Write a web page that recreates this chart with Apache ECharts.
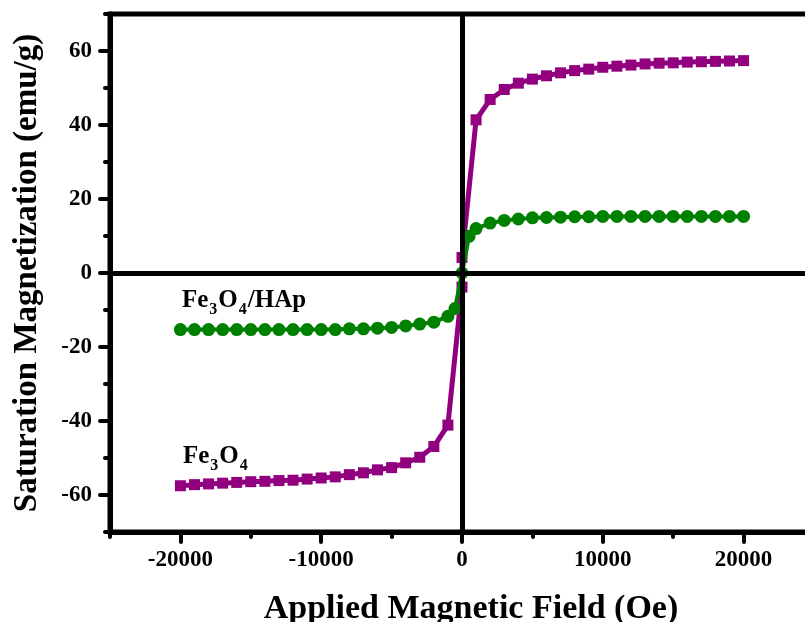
<!DOCTYPE html>
<html>
<head>
<meta charset="utf-8">
<script src="https://cdn.jsdelivr.net/npm/echarts@6/dist/echarts.min.js"></script>
<style>html,body{margin:0;padding:0;background:#fff}#c{width:805px;height:622px}</style>
</head>
<body>
<div id="c"></div>
<script>
// Fe3O4 (purple squares)
var fieldFe3O4 = [-20000,-19000,-18000,-17000,-16000,-15000,-14000,-13000,-12000,-11000,-10000,-9000,-8000,-7000,-6000,-5000,-4000,-3000,-2000,-1000,0,0,1000,2000,3000,4000,5000,6000,7000,8000,9000,10000,11000,12000,13000,14000,15000,16000,17000,18000,19000,20000];
var magFe3O4 = [-57.5,-57.2,-57.0,-56.8,-56.6,-56.4,-56.3,-56.1,-56.0,-55.7,-55.4,-55.1,-54.5,-54.0,-53.2,-52.6,-51.3,-49.8,-46.9,-41.1,-3.8,4.2,41.4,46.9,49.6,51.3,52.4,53.3,54.1,54.7,55.1,55.6,55.9,56.2,56.5,56.7,56.8,57.0,57.1,57.2,57.3,57.4];
// Fe3O4/HAp (green circles)
var fieldHAp = [-20000,-19000,-18000,-17000,-16000,-15000,-14000,-13000,-12000,-11000,-10000,-9000,-8000,-7000,-6000,-5000,-4000,-3000,-2000,-1000,-500,0,500,1000,2000,3000,4000,5000,6000,7000,8000,9000,10000,11000,12000,13000,14000,15000,16000,17000,18000,19000,20000];
var magHAp = [-15.3,-15.3,-15.3,-15.3,-15.3,-15.3,-15.3,-15.3,-15.3,-15.3,-15.3,-15.3,-15.1,-15.1,-14.9,-14.7,-14.3,-13.8,-13.3,-11.7,-9.6,0,9.9,12.0,13.5,14.2,14.6,14.9,15.0,15.1,15.2,15.2,15.3,15.3,15.3,15.3,15.3,15.3,15.3,15.3,15.3,15.3,15.3];
// ticks
var xMajorTicks = [-20000,-10000,0,10000,20000];
var xMinorTicks = [-25000,-15000,-5000,5000,15000,25000];
var yMajorTicks = [-60,-40,-20,0,20,40,60];
var yMinorTicks = [-70,-50,-30,-10,10,30,50,70];

function pairs(xs, ys){ return xs.map(function(x,i){ return [x, ys[i]]; }); }
function plain(v){ return String(v); }

var FONT = '"Liberation Serif","Times New Roman",serif';
var chart = echarts.init(document.getElementById('c'), null, {renderer:'canvas'});
var axisCommon = {
  type:'value', splitLine:{show:false}
};
chart.setOption({
  animation:false,
  backgroundColor:'#fff',
  grid:{left:110, top:14, right:-9, bottom:90, containLabel:false, outerBoundsMode:'none',
        show:true, borderWidth:5, borderColor:'#000', backgroundColor:'transparent'},
  xAxis:[
    Object.assign({}, axisCommon, {
      min:-25000, max:25000, interval:5000, position:'bottom',
      axisLine:{show:true, onZero:false, lineStyle:{color:'#000', width:5, cap:'round'}},
      axisTick:{show:true, customValues:xMajorTicks, length:10, lineStyle:{color:'#000', width:4, cap:'round'}},
      axisLabel:{show:true, customValues:xMajorTicks, formatter:plain, margin:17, color:'#000', fontFamily:FONT, fontWeight:'bold', fontSize:23},
      name:'Applied Magnetic Field (Oe)', nameLocation:'middle', nameGap:60,
      nameTextStyle:{color:'#000', fontFamily:FONT, fontWeight:'bold', fontSize:34, padding:[0,0,0,18]}
    }),
    Object.assign({}, axisCommon, {
      min:-25000, max:25000, interval:5000, position:'bottom',
      axisLine:{show:false, onZero:false},
      axisTick:{show:true, customValues:xMinorTicks, length:5, lineStyle:{color:'#000', width:4, cap:'round'}},
      axisLabel:{show:false}
    })
  ],
  yAxis:[
    Object.assign({}, axisCommon, {
      min:-70, max:70, interval:10, position:'left',
      axisLine:{show:true, onZero:false, lineStyle:{color:'#000', width:5, cap:'round'}},
      axisTick:{show:true, customValues:yMajorTicks, length:10, lineStyle:{color:'#000', width:4, cap:'round'}},
      axisLabel:{show:true, customValues:yMajorTicks, formatter:plain, margin:18, color:'#000', fontFamily:FONT, fontWeight:'bold', fontSize:23},
      name:'Saturation Magnetization (emu/g)', nameLocation:'middle', nameGap:66,
      nameTextStyle:{color:'#000', fontFamily:FONT, fontWeight:'bold', fontSize:33}
    }),
    Object.assign({}, axisCommon, {
      min:-70, max:70, interval:10, position:'left',
      axisLine:{show:false, onZero:false},
      axisTick:{show:true, customValues:yMinorTicks, length:5, lineStyle:{color:'#000', width:4, cap:'round'}},
      axisLabel:{show:false}
    })
  ],
  series:[
    {
      type:'line', data:[], z:1, silent:true,
      markLine:{
        silent:true, symbol:['none','none'], label:{show:false},
        lineStyle:{color:'#000', width:5, type:'solid'},
        data:[{xAxis:0},{yAxis:0}]
      }
    },
    {
      name:'Fe3O4', type:'line', data:pairs(fieldFe3O4, magFe3O4), z:3,
      symbol:'rect', symbolSize:11, showAllSymbol:true,
      lineStyle:{color:'#920080', width:5},
      itemStyle:{color:'#920080'}
    },
    {
      name:'Fe3O4/HAp', type:'line', data:pairs(fieldHAp, magHAp), z:4,
      symbol:'circle', symbolSize:13, showAllSymbol:true,
      lineStyle:{color:'#008000', width:4},
      itemStyle:{color:'#008000'}
    }
  ],
  graphic:[
    {
      type:'text', left:182, top:288, z:10,
      style:{
        text:'{m|Fe}{s|3}{m|O}{s|4}{m|/HAp}',
        fill:'#000',
        rich:{
          m:{fontFamily:FONT, fontWeight:'bold', fontSize:25, lineHeight:30, verticalAlign:'top', fill:'#000'},
          s:{fontFamily:FONT, fontWeight:'bold', fontSize:16, lineHeight:30, verticalAlign:'bottom', padding:[14,1,0,1], fill:'#000'}
        }
      }
    },
    {
      type:'text', left:183, top:444, z:10,
      style:{
        text:'{m|Fe}{s|3}{m|O}{s|4}',
        fill:'#000',
        rich:{
          m:{fontFamily:FONT, fontWeight:'bold', fontSize:25, lineHeight:30, verticalAlign:'top', fill:'#000'},
          s:{fontFamily:FONT, fontWeight:'bold', fontSize:16, lineHeight:30, verticalAlign:'bottom', padding:[14,1,0,1], fill:'#000'}
        }
      }
    }
  ]
});
</script>
</body>
</html>
